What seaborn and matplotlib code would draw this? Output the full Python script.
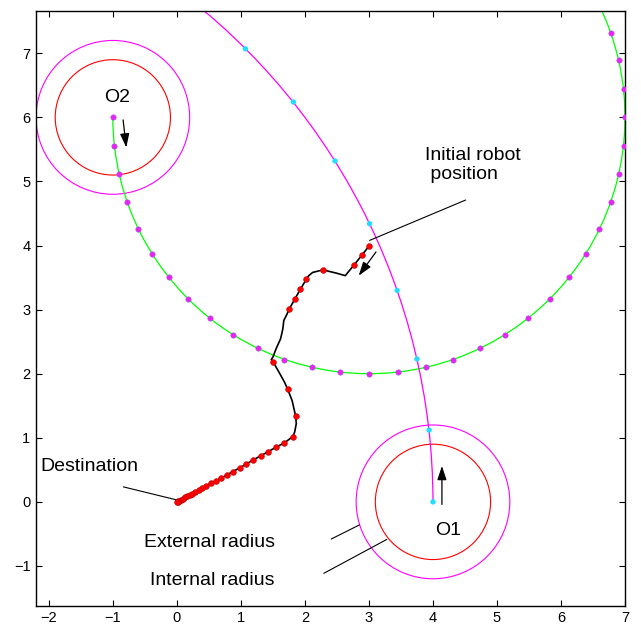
import matplotlib
matplotlib.use("Agg")
import matplotlib.pyplot as plt
from matplotlib.patches import Circle, Arc
import seaborn as sns

# obstacle centres and radii
obstacles = {"O1": (4.0, 0.0), "O2": (-1.0, 6.0)}
r_internal = 0.9
r_external = 1.2

# obstacle O2 trajectory (green arc) sampled positions
g_x = [-1.00, -0.98, -0.90, -0.78, -0.60, -0.39, -0.13, 0.17, 0.51, 0.87, 1.26, 1.68,
       2.11, 2.55, 3.00, 3.45, 3.89, 4.32, 4.74, 5.13, 5.49, 5.83, 6.13, 6.39, 6.60,
       6.78, 6.90, 6.98, 7.00, 6.98, 6.90, 6.78]
g_y = [6.00, 5.55, 5.11, 4.68, 4.26, 3.87, 3.51, 3.17, 2.87, 2.61, 2.40, 2.22, 2.10,
       2.03, 2.00, 2.03, 2.10, 2.22, 2.40, 2.61, 2.87, 3.17, 3.51, 3.87, 4.26, 4.68,
       5.11, 5.55, 6.00, 6.45, 6.89, 7.32]
g_center = (3.0, 6.0)
g_radius = 4.0

# obstacle O1 trajectory (magenta arc) sampled positions
c_x = [4.00, 3.94, 3.75, 3.44, 3.01, 2.47, 1.82, 1.07]
c_y = [0.00, 1.12, 2.23, 3.30, 4.34, 5.32, 6.24, 7.07]
m_center = (-6.0, 0.0)
m_radius = 10.0

# robot path
path_x = [3.00, 2.89, 2.77, 2.63, 2.49, 2.28, 2.12, 2.06, 2.02, 1.93, 1.84, 1.755,
          1.72, 1.67, 1.655, 1.62, 1.55, 1.50, 1.475, 1.50, 1.58, 1.68, 1.73, 1.80,
          1.855, 1.865, 1.84, 1.81, 1.68, 1.55, 1.43, 1.31, 1.195, 1.085, 0.98, 0.87,
          0.78, 0.69, 0.61, 0.53, 0.46, 0.39, 0.34, 0.29, 0.24, 0.20, 0.16, 0.12, 0.09,
          0.06, 0.04, 0.02, 0.01, 0.00]
path_y = [3.99, 3.85, 3.70, 3.53, 3.57, 3.62, 3.58, 3.53, 3.47, 3.32, 3.16, 3.01,
          2.93, 2.83, 2.70, 2.545, 2.39, 2.26, 2.22, 2.19, 2.05, 1.87, 1.76, 1.58,
          1.34, 1.22, 1.09, 1.02, 0.92, 0.855, 0.785, 0.72, 0.655, 0.59, 0.53, 0.47,
          0.42, 0.37, 0.33, 0.29, 0.25, 0.21, 0.18, 0.16, 0.13, 0.11, 0.09, 0.07, 0.05,
          0.035, 0.02, 0.01, 0.005, 0.0]

# robot sampled positions (red dots)
r_x = [3.00, 2.89, 2.77, 2.28, 2.02, 1.93, 1.84, 1.755, 1.50, 1.73, 1.855, 1.81,
       1.68, 1.55, 1.43, 1.31, 1.195, 1.085, 0.98, 0.87, 0.78, 0.69, 0.61, 0.53, 0.46,
       0.39, 0.34, 0.29, 0.24, 0.20, 0.16, 0.12, 0.09, 0.06, 0.04, 0.02, 0.01, 0.00]
r_y = [3.99, 3.85, 3.70, 3.62, 3.47, 3.32, 3.16, 3.01, 2.19, 1.76, 1.34, 1.02, 0.92,
       0.855, 0.785, 0.72, 0.655, 0.59, 0.53, 0.47, 0.42, 0.37, 0.33, 0.29, 0.25, 0.21,
       0.18, 0.16, 0.13, 0.11, 0.09, 0.07, 0.05, 0.035, 0.02, 0.01, 0.005, 0.0]

sns.set_style("ticks", {"axes.edgecolor": "black", "text.color": "black",
                        "xtick.color": "black", "ytick.color": "black"})
plt.rcParams["font.family"] = ["Liberation Sans", "DejaVu Sans"]
plt.rcParams["xtick.direction"] = "in"
plt.rcParams["ytick.direction"] = "in"

fig = plt.figure(figsize=(6.41, 6.31), dpi=100)
ax = fig.add_axes([0.0562, 0.0401, 0.9189, 0.9425])

# circles around obstacles
for name, (ox, oy) in obstacles.items():
    ax.add_patch(Circle((ox, oy), r_internal, fill=False, ec="#FF0000", lw=0.8))
    ax.add_patch(Circle((ox, oy), r_external, fill=False, ec="#FF00FF", lw=0.8))

# obstacle trajectories
ax.add_patch(Arc(g_center, 2 * g_radius, 2 * g_radius, theta1=180, theta2=400,
                 color="#00FF00", lw=0.9))
ax.add_patch(Arc(m_center, 2 * m_radius, 2 * m_radius, theta1=0, theta2=55,
                 color="#FF00FF", lw=0.9))

# robot path
sns.lineplot(x=path_x, y=path_y, sort=False, estimator=None, color="black",
             lw=1.2, ax=ax)

sns.scatterplot(x=g_x, y=g_y, color="#EE22EE", edgecolor="#9955EE", linewidth=0.4,
                s=15, ax=ax, zorder=3)
sns.scatterplot(x=c_x, y=c_y, color="#22DDFF", edgecolor="none", s=15, ax=ax, zorder=3)
sns.scatterplot(x=r_x, y=r_y, color="#FF0000", edgecolor="#BB0000", linewidth=0.4,
                s=17, ax=ax, zorder=3)

# motion arrows
arrow = dict(arrowstyle="-|>,head_length=0.6,head_width=0.2", color="black",
             lw=0.9, mutation_scale=14, shrinkA=0, shrinkB=0)
ax.annotate("", xy=(-0.79, 5.53), xytext=(-0.84, 5.96), arrowprops=arrow)
ax.annotate("", xy=(4.14, 0.56), xytext=(4.14, -0.04), arrowprops=arrow)
ax.annotate("", xy=(2.84, 3.53), xytext=(3.11, 3.90), arrowprops=arrow)

# labels
fs = 14
ax.text(-0.94, 6.31, "O2", fontsize=fs, ha="center", va="center")
ax.text(4.23, -0.45, "O1", fontsize=fs, ha="center", va="center")
ax.text(3.88, 5.25, "Initial robot\n position", fontsize=fs, ha="left", va="center",
        linespacing=1.15)
ax.text(-2.13, 0.545, "Destination", fontsize=fs, ha="left", va="center")
ax.text(1.53, -0.64, "External radius", fontsize=fs, ha="right", va="center")
ax.text(1.53, -1.23, "Internal radius", fontsize=fs, ha="right", va="center")

# pointer lines
ax.plot([4.51, 3.01], [4.71, 4.08], color="black", lw=0.8)
ax.plot([-0.835, 0.0], [0.234, 0.03], color="black", lw=0.8)
ax.plot([2.41, 2.85], [-0.58, -0.36], color="black", lw=0.8)
ax.plot([2.295, 3.28], [-1.115, -0.585], color="black", lw=0.8)

ax.set_xlim(-2.2, 7.0)
ax.set_ylim(-1.62, 7.66)
ax.set_xticks(range(-2, 8))
ax.set_yticks(range(-1, 8))
ax.tick_params(top=True, right=True, length=4, width=0.8, labelsize=10.5, pad=4)
for s in ax.spines.values():
    s.set_linewidth(1.0)
    s.set_visible(True)

fig.savefig("out.png", dpi=100)
